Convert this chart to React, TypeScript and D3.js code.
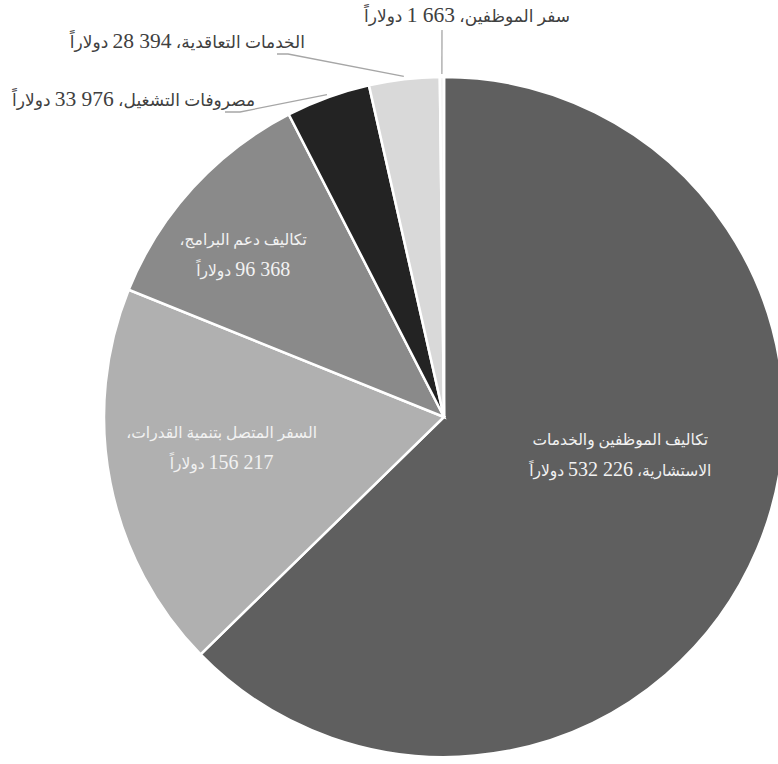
import React from "react";
import * as d3 from "d3";

const categories = [
  "تكاليف الموظفين والخدمات الاستشارية",
  "السفر المتصل بتنمية القدرات",
  "تكاليف دعم البرامج",
  "مصروفات التشغيل",
  "الخدمات التعاقدية",
  "سفر الموظفين",
];
const values = [532226, 156217, 96368, 33976, 28394, 1663];
const colors = ["#5f5f5f", "#b0b0b0", "#8a8a8a", "#232323", "#d9d9d9", "#f4f4f4"];

// label line breaks: each entry = lines of the label (value formatted separately)
const labelLines = [
  ["تكاليف الموظفين والخدمات", "الاستشارية، {v} دولاراً"],
  ["السفر المتصل بتنمية القدرات،", "{v} دولاراً"],
  ["تكاليف دعم البرامج،", "{v} دولاراً"],
  ["مصروفات التشغيل، {v} دولاراً"],
  ["الخدمات التعاقدية، {v} دولاراً"],
  ["سفر الموظفين، {v} دولاراً"],
];

// layout: inside labels in polar coords (deg, fraction of radius); outside labels with leader elbows
const insideLayout: Record<number, { a: number; r: number }> = {
  0: { a: 102, r: 0.53 },
  1: { a: 262.3, r: 0.66 },
  2: { a: 309, r: 0.76 },
};
const outsideLayout: Record<number, { tx: number; ty: number; ex: number; ey: number; sx: number }> = {
  3: { tx: 255, ty: 106, ex: 240, ey: 112, sx: 225 },
  4: { tx: 305, ty: 48, ex: 288, ey: 54, sx: 277 },
  5: { tx: 570, ty: 22, ex: 442, ey: 30, sx: 442 },
};

const W = 778;
const H = 764;
const cx = 444;
const cy = 417;
const R = 340;

// Space-grouped number kept as one left-to-right unit inside the Arabic text.
function fmt(v: number) {
  const s = Math.round(v).toString();
  const groups: string[] = [];
  let rest = s;
  while (rest.length > 3) {
    groups.unshift(rest.slice(-3));
    rest = rest.slice(0, -3);
  }
  groups.unshift(rest);
  return "\u2066" + groups.join(" ") + "\u2069";
}

function runs(str: string, numSize: number) {
  const parts = str.split(/(\u2066[^\u2069]*\u2069)/);
  return parts.map((p, k) =>
    /\d/.test(p) ? (
      <tspan key={k} fontSize={numSize}>
        {p}
      </tspan>
    ) : (
      <tspan key={k}>{p}</tspan>
    )
  );
}

export default function App() {
  const pie = d3
    .pie<number>()
    .sort(null)
    .value((d) => d)
    .startAngle(0)
    .endAngle(Math.PI * 2);
  const arcs = pie(values);
  const arc = d3.arc<d3.PieArcDatum<number>>().innerRadius(0).outerRadius(R);
  const edgeArc = d3.arc<d3.PieArcDatum<number>>().innerRadius(R + 3).outerRadius(R + 3);

  const font = "'Liberation Serif', 'Times New Roman', 'DejaVu Sans', serif";

  return (
    <svg
      width={W}
      height={H}
      style={{ position: "absolute", left: 0, top: 0, background: "#fff" }}
      fontFamily={font}
    >
      <rect width={W} height={H} fill="#fff" />
      <g transform={`translate(${cx},${cy})`}>
        {arcs.map((a, i) => (
          <path key={i} d={arc(a) || ""} fill={colors[i]} stroke="#fff" strokeWidth={2.5} />
        ))}
      </g>
      {arcs.map((a, i) => {
        const lines = labelLines[i].map((l) => l.replace("{v}", fmt(values[i])));
        if (insideLayout[i]) {
          const L = insideLayout[i];
          const ang = (L.a * Math.PI) / 180;
          const x = cx + Math.sin(ang) * R * L.r;
          const y = cy - Math.cos(ang) * R * L.r;
          const lh = 31;
          const y0 = y - ((lines.length - 1) * lh) / 2 + 6;
          return (
            <text
              key={"l" + i}
              direction="rtl"
              textAnchor="middle"
              fill="#f2f2f2"
              fontSize={15.5}
            >
              {lines.map((l, k) => (
                <tspan key={k} x={x} y={y0 + k * lh}>
                  {runs(l, 20)}
                </tspan>
              ))}
            </text>
          );
        }
        const O = outsideLayout[i];
        const [px, py] = edgeArc.centroid(a);
        const pts: [number, number][] = [
          [cx + px, cy + py],
          [O.ex, O.ey],
          [O.sx, O.ey],
        ];
        return (
          <g key={"l" + i}>
            <path
              d={d3.line()(pts) || ""}
              fill="none"
              stroke="#a6a6a6"
              strokeWidth={1.3}
            />
            <text
              x={O.tx}
              y={O.ty}
              direction="rtl"
              textAnchor="start"
              fill="#404040"
              fontSize={17}
            >
              {runs(lines[0], 21.5)}
            </text>
          </g>
        );
      })}
    </svg>
  );
}
